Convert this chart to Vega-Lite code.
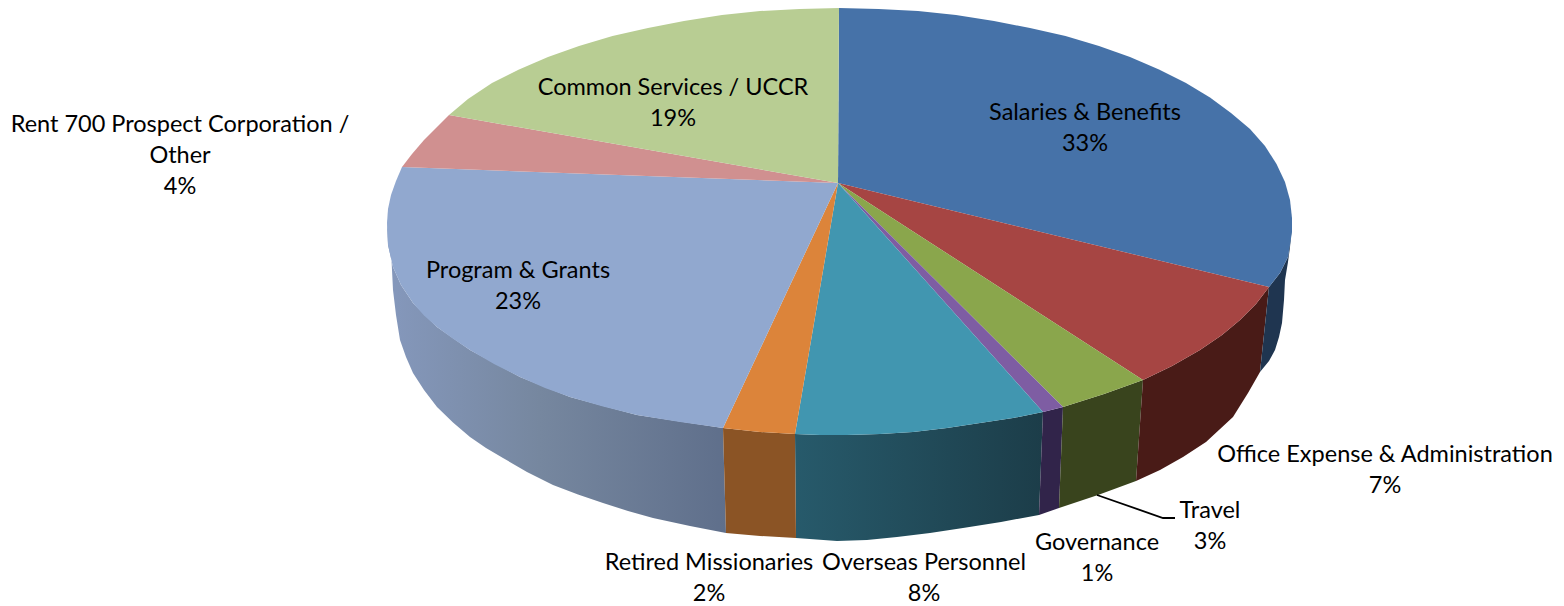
{"$schema":"https://vega.github.io/schema/vega-lite/v6.json","width":1564,"height":606,"padding":0,"autosize":"none","background":"white","view":{"stroke":null},
"datasets":{
"outline":[
{"piece":"Program side","i":1,"x":387,"y":223},{"piece":"Program side","i":2,"x":388,"y":245},{"piece":"Program side","i":3,"x":393,"y":267},{"piece":"Program side","i":4,"x":401,"y":285},{"piece":"Program side","i":5,"x":413,"y":303},{"piece":"Program side","i":6,"x":437,"y":327},{"piece":"Program side","i":7,"x":470,"y":350},{"piece":"Program side","i":8,"x":520,"y":377},{"piece":"Program side","i":9,"x":570,"y":397},{"piece":"Program side","i":10,"x":637,"y":415},{"piece":"Program side","i":11,"x":723,"y":428},{"piece":"Program side","i":12,"x":726,"y":533},{"piece":"Program side","i":13,"x":690,"y":526},{"piece":"Program side","i":14,"x":653,"y":518},{"piece":"Program side","i":15,"x":628,"y":511},{"piece":"Program side","i":16,"x":603,"y":503},{"piece":"Program side","i":17,"x":578,"y":494.5},{"piece":"Program side","i":18,"x":553,"y":485},{"piece":"Program side","i":19,"x":527,"y":472},{"piece":"Program side","i":20,"x":503,"y":458},{"piece":"Program side","i":21,"x":486,"y":448},{"piece":"Program side","i":22,"x":470,"y":437},{"piece":"Program side","i":23,"x":453,"y":422.5},{"piece":"Program side","i":24,"x":437,"y":407},{"piece":"Program side","i":25,"x":424,"y":390},{"piece":"Program side","i":26,"x":413,"y":373},{"piece":"Program side","i":27,"x":406,"y":357},{"piece":"Program side","i":28,"x":400,"y":340},{"piece":"Program side","i":29,"x":396,"y":315},{"piece":"Program side","i":30,"x":393,"y":290},{"piece":"Program side","i":31,"x":391,"y":250},
{"piece":"Overseas side","i":1,"x":795,"y":434},{"piece":"Overseas side","i":2,"x":820,"y":435},{"piece":"Overseas side","i":3,"x":847,"y":435},{"piece":"Overseas side","i":4,"x":880,"y":434},{"piece":"Overseas side","i":5,"x":913,"y":432},{"piece":"Overseas side","i":6,"x":947,"y":428},{"piece":"Overseas side","i":7,"x":980,"y":423},{"piece":"Overseas side","i":8,"x":1013,"y":418},{"piece":"Overseas side","i":9,"x":1043,"y":412},{"piece":"Overseas side","i":10,"x":1039,"y":515},{"piece":"Overseas side","i":11,"x":1001,"y":522},{"piece":"Overseas side","i":12,"x":963,"y":528},{"piece":"Overseas side","i":13,"x":930,"y":533},{"piece":"Overseas side","i":14,"x":897,"y":537},{"piece":"Overseas side","i":15,"x":867,"y":540},{"piece":"Overseas side","i":16,"x":837,"y":541},{"piece":"Overseas side","i":17,"x":796,"y":538},
{"piece":"Retired side","i":1,"x":723,"y":428},{"piece":"Retired side","i":2,"x":760,"y":432},{"piece":"Retired side","i":3,"x":795,"y":434},{"piece":"Retired side","i":4,"x":796,"y":538},{"piece":"Retired side","i":5,"x":760,"y":536},{"piece":"Retired side","i":6,"x":726,"y":533},
{"piece":"Governance side","i":1,"x":1043,"y":412},{"piece":"Governance side","i":2,"x":1063,"y":407},{"piece":"Governance side","i":3,"x":1059,"y":508},{"piece":"Governance side","i":4,"x":1039,"y":515},
{"piece":"Travel side","i":1,"x":1063,"y":407},{"piece":"Travel side","i":2,"x":1104,"y":394},{"piece":"Travel side","i":3,"x":1143,"y":380},{"piece":"Travel side","i":4,"x":1136,"y":481},{"piece":"Travel side","i":5,"x":1098,"y":495},{"piece":"Travel side","i":6,"x":1059,"y":508},
{"piece":"Office side","i":1,"x":1143,"y":380},{"piece":"Office side","i":2,"x":1172,"y":366},{"piece":"Office side","i":3,"x":1200,"y":350},{"piece":"Office side","i":4,"x":1222,"y":335},{"piece":"Office side","i":5,"x":1240,"y":320},{"piece":"Office side","i":6,"x":1256,"y":304},{"piece":"Office side","i":7,"x":1269,"y":287},{"piece":"Office side","i":8,"x":1260,"y":372},{"piece":"Office side","i":9,"x":1248,"y":393},{"piece":"Office side","i":10,"x":1233,"y":417},{"piece":"Office side","i":11,"x":1206,"y":442},{"piece":"Office side","i":12,"x":1183,"y":457},{"piece":"Office side","i":13,"x":1160,"y":470},{"piece":"Office side","i":14,"x":1136,"y":481},
{"piece":"Salaries side","i":1,"x":1292,"y":225},{"piece":"Salaries side","i":2,"x":1290,"y":247},{"piece":"Salaries side","i":3,"x":1288,"y":262},{"piece":"Salaries side","i":4,"x":1285,"y":280},{"piece":"Salaries side","i":5,"x":1284,"y":300},{"piece":"Salaries side","i":6,"x":1282,"y":323},{"piece":"Salaries side","i":7,"x":1279,"y":337},{"piece":"Salaries side","i":8,"x":1275,"y":350},{"piece":"Salaries side","i":9,"x":1269,"y":361},{"piece":"Salaries side","i":10,"x":1260,"y":372},{"piece":"Salaries side","i":11,"x":1269,"y":287},{"piece":"Salaries side","i":12,"x":1280,"y":273},{"piece":"Salaries side","i":13,"x":1288,"y":257},
{"piece":"Salaries top","i":0,"x":838,"y":183},{"piece":"Salaries top","i":1,"x":839,"y":8},{"piece":"Salaries top","i":2,"x":878.5,"y":9},{"piece":"Salaries top","i":3,"x":918,"y":11},{"piece":"Salaries top","i":4,"x":956,"y":15},{"piece":"Salaries top","i":5,"x":994,"y":21},{"piece":"Salaries top","i":6,"x":1030,"y":28},{"piece":"Salaries top","i":7,"x":1065.5,"y":36},{"piece":"Salaries top","i":8,"x":1099,"y":46},{"piece":"Salaries top","i":9,"x":1130,"y":57},{"piece":"Salaries top","i":10,"x":1159,"y":69.5},{"piece":"Salaries top","i":11,"x":1186,"y":83},{"piece":"Salaries top","i":12,"x":1210,"y":97.5},{"piece":"Salaries top","i":13,"x":1231,"y":113},{"piece":"Salaries top","i":14,"x":1250,"y":129},{"piece":"Salaries top","i":15,"x":1265,"y":146},{"piece":"Salaries top","i":16,"x":1276.5,"y":164},{"piece":"Salaries top","i":17,"x":1285,"y":182},{"piece":"Salaries top","i":18,"x":1290,"y":200},{"piece":"Salaries top","i":19,"x":1292,"y":218},{"piece":"Salaries top","i":20,"x":1292,"y":232},{"piece":"Salaries top","i":21,"x":1288,"y":257},{"piece":"Salaries top","i":22,"x":1280,"y":273},{"piece":"Salaries top","i":23,"x":1269,"y":287},
{"piece":"Office top","i":0,"x":838,"y":183},{"piece":"Office top","i":1,"x":1269,"y":287},{"piece":"Office top","i":2,"x":1256,"y":304},{"piece":"Office top","i":3,"x":1240,"y":320},{"piece":"Office top","i":4,"x":1222,"y":335},{"piece":"Office top","i":5,"x":1200,"y":350},{"piece":"Office top","i":6,"x":1172,"y":366},{"piece":"Office top","i":7,"x":1143,"y":380},
{"piece":"Travel top","i":0,"x":838,"y":183},{"piece":"Travel top","i":1,"x":1143,"y":380},{"piece":"Travel top","i":2,"x":1104,"y":394},{"piece":"Travel top","i":3,"x":1063,"y":407},
{"piece":"Governance top","i":0,"x":838,"y":183},{"piece":"Governance top","i":1,"x":1063,"y":407},{"piece":"Governance top","i":2,"x":1043,"y":412},
{"piece":"Overseas top","i":0,"x":838,"y":183},{"piece":"Overseas top","i":1,"x":1043,"y":412},{"piece":"Overseas top","i":2,"x":1013,"y":418},{"piece":"Overseas top","i":3,"x":980,"y":423},{"piece":"Overseas top","i":4,"x":947,"y":428},{"piece":"Overseas top","i":5,"x":913,"y":432},{"piece":"Overseas top","i":6,"x":880,"y":434},{"piece":"Overseas top","i":7,"x":847,"y":435},{"piece":"Overseas top","i":8,"x":820,"y":435},{"piece":"Overseas top","i":9,"x":795,"y":434},
{"piece":"Retired top","i":0,"x":838,"y":183},{"piece":"Retired top","i":1,"x":795,"y":434},{"piece":"Retired top","i":2,"x":760,"y":432},{"piece":"Retired top","i":3,"x":723,"y":428},
{"piece":"Program top","i":0,"x":838,"y":183},{"piece":"Program top","i":1,"x":723,"y":428},{"piece":"Program top","i":2,"x":680,"y":422},{"piece":"Program top","i":3,"x":637,"y":415},{"piece":"Program top","i":4,"x":603,"y":406.5},{"piece":"Program top","i":5,"x":570,"y":397},{"piece":"Program top","i":6,"x":545,"y":388},{"piece":"Program top","i":7,"x":520,"y":377},{"piece":"Program top","i":8,"x":494,"y":364},{"piece":"Program top","i":9,"x":470,"y":350},{"piece":"Program top","i":10,"x":452,"y":338},{"piece":"Program top","i":11,"x":437,"y":327},{"piece":"Program top","i":12,"x":424,"y":315.5},{"piece":"Program top","i":13,"x":413,"y":303},{"piece":"Program top","i":14,"x":401,"y":285},{"piece":"Program top","i":15,"x":393,"y":267},{"piece":"Program top","i":16,"x":388,"y":245},{"piece":"Program top","i":17,"x":387,"y":223},{"piece":"Program top","i":18,"x":388,"y":209},{"piece":"Program top","i":19,"x":391,"y":195},{"piece":"Program top","i":20,"x":396,"y":181},{"piece":"Program top","i":21,"x":402,"y":167},
{"piece":"Rent top","i":0,"x":838,"y":183},{"piece":"Rent top","i":1,"x":402,"y":167},{"piece":"Rent top","i":2,"x":412,"y":154},{"piece":"Rent top","i":3,"x":424,"y":140},{"piece":"Rent top","i":4,"x":436,"y":128},{"piece":"Rent top","i":5,"x":449,"y":115},
{"piece":"Common top","i":0,"x":838,"y":183},{"piece":"Common top","i":1,"x":449,"y":115},{"piece":"Common top","i":2,"x":468,"y":99},{"piece":"Common top","i":3,"x":492,"y":83},{"piece":"Common top","i":4,"x":519,"y":69.5},{"piece":"Common top","i":5,"x":548,"y":57},{"piece":"Common top","i":6,"x":579,"y":46},{"piece":"Common top","i":7,"x":612.5,"y":36},{"piece":"Common top","i":8,"x":648,"y":28},{"piece":"Common top","i":9,"x":684,"y":21},{"piece":"Common top","i":10,"x":722,"y":15},{"piece":"Common top","i":11,"x":760,"y":11},{"piece":"Common top","i":12,"x":799.5,"y":9},{"piece":"Common top","i":13,"x":839,"y":8}
],
"labels":[
{"label":"Salaries & Benefits","share":33,"x":1085,"y":113},
{"label":"Office Expense & Administration","share":7,"x":1385,"y":455},
{"label":"Travel","share":3,"x":1210,"y":511},
{"label":"Governance","share":1,"x":1097,"y":543},
{"label":"Overseas Personnel","share":8,"x":924,"y":563},
{"label":"Retired Missionaries","share":2,"x":709,"y":563},
{"label":"Program & Grants","share":23,"x":518,"y":271},
{"label":"Rent 700 Prospect Corporation /\nOther","share":4,"x":180,"y":125},
{"label":"Common Services / UCCR","share":19,"x":673,"y":88}
],
"leader":[{"i":1,"x":1097,"y":495},{"i":2,"x":1163,"y":518},{"i":3,"x":1175,"y":518}]
},
"encoding":{
"x":{"field":"x","type":"quantitative","scale":{"domain":[0,1564],"nice":false,"zero":false},"axis":null},
"y":{"field":"y","type":"quantitative","scale":{"domain":[0,606],"nice":false,"zero":false,"reverse":true},"axis":null}
},
"layer":[
{"data":{"name":"outline"},"transform":[{"filter":"datum.piece === 'Program side'"}],
"mark":{"type":"line","filled":true,"strokeWidth":0,"color":{"gradient":"linear","x1":0,"y1":0,"x2":1,"y2":0,"stops":[{"offset":0,"color":"#8598BC"},{"offset":0.45,"color":"#76879F"},{"offset":1,"color":"#5F6F8B"}]}},
"encoding":{"order":{"field":"i","type":"quantitative"}}},
{"data":{"name":"outline"},"transform":[{"filter":"datum.piece === 'Overseas side'"}],
"mark":{"type":"line","filled":true,"strokeWidth":0,"color":{"gradient":"linear","x1":0,"y1":0,"x2":1,"y2":0,"stops":[{"offset":0,"color":"#275A6B"},{"offset":1,"color":"#1C3D49"}]}},
"encoding":{"order":{"field":"i","type":"quantitative"}}},
{"data":{"name":"outline"},"transform":[{"filter":"datum.piece !== 'Program side' && datum.piece !== 'Overseas side'"}],
"mark":{"type":"line","filled":true,"strokeWidth":0},
"encoding":{"order":{"field":"i","type":"quantitative"},
"color":{"field":"piece","type":"nominal","legend":null,"scale":{
"domain":["Retired side","Governance side","Travel side","Office side","Salaries side","Salaries top","Office top","Travel top","Governance top","Overseas top","Retired top","Program top","Rent top","Common top"],
"range":["#8B5425","#31244A","#39441D","#491B17","#1F3550","#4672A8","#A64543","#8AA64C","#7E5DA3","#4196B0","#DC843A","#91A8CF","#D09090","#B8CD93"]}}}},
{"data":{"name":"leader"},"mark":{"type":"line","color":"black","strokeWidth":1.8},"encoding":{"order":{"field":"i","type":"quantitative"}}},
{"data":{"name":"labels"},"transform":[{"calculate":"datum.label + '\\n' + datum.share + '%'","as":"caption"}],
"mark":{"type":"text","font":"Lato","fontSize":23.5,"lineHeight":31,"lineBreak":"\n","align":"center","baseline":"middle","color":"black"},
"encoding":{"text":{"field":"caption","type":"nominal"}}}
]}
